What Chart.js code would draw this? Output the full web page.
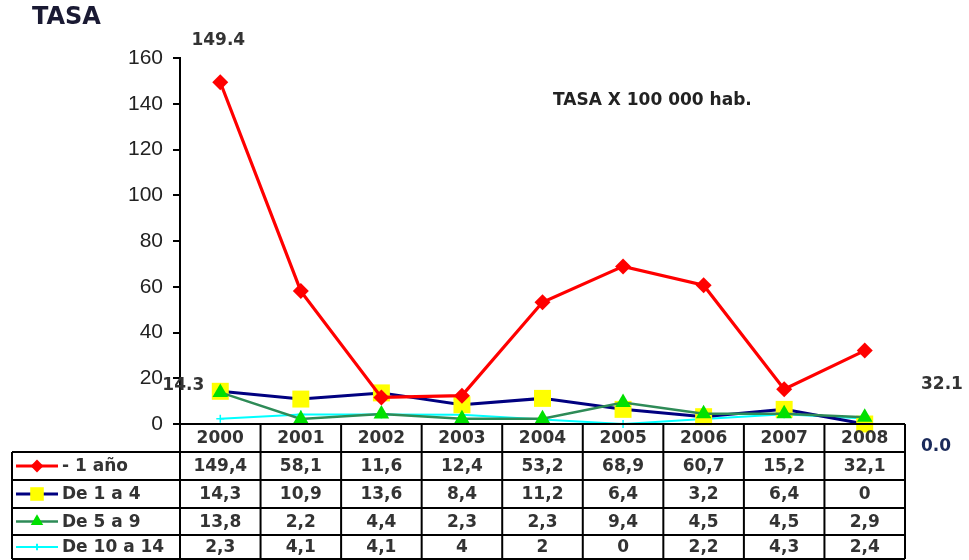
<!DOCTYPE html>
<html>
<head>
<meta charset="utf-8">
<script src="https://cdn.jsdelivr.net/npm/chart.js@4/dist/chart.umd.min.js"></script>
<style>
html,body{margin:0;padding:0;background:#fff;}
#wrap{width:969px;height:560px;position:relative;}
</style>
</head>
<body>
<div id="wrap"><canvas id="c" width="969" height="560"></canvas></div>
<script>
const years = ['2000','2001','2002','2003','2004','2005','2006','2007','2008'];
const menos1 = [149.4, 58.1, 11.6, 12.4, 53.2, 68.9, 60.7, 15.2, 32.1];
const de1a4 = [14.3, 10.9, 13.6, 8.4, 11.2, 6.4, 3.2, 6.4, 0];
const de5a9 = [13.8, 2.2, 4.4, 2.3, 2.3, 9.4, 4.5, 4.5, 2.9];
const de10a14 = [2.3, 4.1, 4.1, 4, 2, 0, 2.2, 4.3, 2.4];
const seriesNames = ['- 1 año', 'De 1 a 4', 'De 5 a 9', 'De 10 a 14'];
const tableText = [
  ['149,4','58,1','11,6','12,4','53,2','68,9','60,7','15,2','32,1'],
  ['14,3','10,9','13,6','8,4','11,2','6,4','3,2','6,4','0'],
  ['13,8','2,2','4,4','2,3','2,3','9,4','4,5','4,5','2,9'],
  ['2,3','4,1','4,1','4','2','0','2,2','4,3','2,4']
];
const yTicks = [0,20,40,60,80,100,120,140,160];

const styles = [
  {line:'#FF0000', fill:'#FF0000', pt:'rectRot', r:8, w:3.2},
  {line:'#000080', fill:'#FFFF00', pt:'rect', r:12, w:3},
  {line:'#2E8B57', fill:'#00E000', pt:'triangle', r:9, w:2.5},
  {line:'#00FFFF', fill:'#00FFFF', pt:'cross', r:4, w:2}
];

const tablePlugin = {
  id:'tablePlugin',
  afterDraw(chart){
    const ctx = chart.ctx;
    const ca = chart.chartArea;
    const xs = chart.scales.x, ys = chart.scales.y;
    const n = years.length;
    const cw = (ca.right - ca.left)/n;
    const top = ca.bottom;
    const rows = [0,28,56,84,111,135].map(v=>top+v);
    const tableLeft = 12;
    ctx.save();
    ctx.strokeStyle = '#000';
    ctx.lineWidth = 2;
    ctx.beginPath();
    ctx.moveTo(ca.left, rows[0]); ctx.lineTo(ca.right, rows[0]);
    for (let i=1;i<rows.length;i++){ ctx.moveTo(tableLeft, rows[i]); ctx.lineTo(ca.right, rows[i]); }
    ctx.moveTo(tableLeft, rows[1]); ctx.lineTo(tableLeft, rows[5]);
    for (let j=0;j<=n;j++){ const x = ca.left + j*cw; ctx.moveTo(x, rows[0]); ctx.lineTo(x, rows[5]); }
    ctx.stroke();
    ctx.fillStyle = '#333';
    ctx.font = 'bold 17px "DejaVu Sans"';
    ctx.textAlign = 'center';
    ctx.textBaseline = 'middle';
    for (let j=0;j<n;j++){
      const x = xs.getPixelForValue(j);
      ctx.fillText(years[j], x, (rows[0]+rows[1])/2+1);
      for (let r=0;r<4;r++){
        ctx.fillText(tableText[r][j], x, (rows[r+1]+rows[r+2])/2+1);
      }
    }
    for (let r=0;r<4;r++){
      const cy = (rows[r+1]+rows[r+2])/2;
      const s = styles[r];
      ctx.strokeStyle = s.line; ctx.lineWidth = s.w;
      ctx.beginPath(); ctx.moveTo(16, cy); ctx.lineTo(58, cy); ctx.stroke();
      ctx.fillStyle = s.fill; ctx.strokeStyle = s.fill;
      ctx.beginPath();
      Chart.helpers.drawPoint(ctx, {pointStyle:s.pt, radius: s.r*0.8, borderWidth: r===3?1.5:0}, 37, cy);
      ctx.fillStyle = '#333';
      ctx.textAlign = 'left';
      ctx.fillText(seriesNames[r], 62, cy+1);
      ctx.textAlign = 'center';
    }
    ctx.fillStyle = '#1a1a33';
    ctx.font = 'bold 24px "DejaVu Sans"';
    ctx.textAlign = 'left';
    ctx.fillText('TASA', 32, 18);
    ctx.font = 'bold 17px "DejaVu Sans"';
    ctx.fillStyle = '#222';
    ctx.fillText('TASA X 100 000 hab.', 553, 101);
    ctx.textAlign = 'center';
    const x0 = xs.getPixelForValue(0);
    ctx.fillStyle = '#333';
    ctx.fillText(menos1[0].toFixed(1), x0-2, ys.getPixelForValue(menos1[0])-42);
    ctx.fillText(de1a4[0].toFixed(1), x0-37, ys.getPixelForValue(de1a4[0])-6);
    ctx.textAlign = 'left';
    ctx.fillText(menos1[n-1].toFixed(1), ca.right+16, ys.getPixelForValue(menos1[n-1])+34);
    ctx.fillStyle = '#1a2a5a';
    ctx.fillText(de1a4[n-1].toFixed(1), ca.right+16, ys.getPixelForValue(de1a4[n-1])+23);
    ctx.restore();
  }
};

const dsDefs = [menos1, de1a4, de5a9, de10a14];
const orders = [0, 2, 1, 3];
const datasets = dsDefs.map((d,i)=>({
  label: seriesNames[i],
  data: d,
  borderColor: styles[i].line,
  backgroundColor: styles[i].fill,
  borderWidth: styles[i].w,
  pointStyle: styles[i].pt,
  pointRadius: styles[i].r,
  pointHoverRadius: styles[i].r,
  pointBackgroundColor: styles[i].fill,
  pointBorderColor: styles[i].fill,
  pointBorderWidth: i===3 ? 1.5 : 0,
  tension: 0,
  clip: false,
  order: orders[i]
}));

new Chart(document.getElementById('c'), {
  type:'line',
  data:{labels: years, datasets},
  options:{
    responsive:false,
    animation:false,
    layout:{padding:{top:58, bottom:136, left:0, right:64}},
    plugins:{legend:{display:false}, tooltip:{enabled:false}},
    scales:{
      x:{display:false, offset:true},
      y:{
        min:0, max:160,
        afterFit(s){ s.width = 180; },
        afterBuildTicks(s){ s.ticks = yTicks.map(v=>({value:v})); },
        ticks:{color:'#222', font:{family:'"Liberation Sans", Arial', size:21}, padding:10},
        grid:{drawOnChartArea:false, color:'#000', tickLength:7, lineWidth:2},
        border:{display:true, color:'#000', width:2}
      }
    }
  },
  plugins:[tablePlugin]
});
</script>
</body>
</html>
